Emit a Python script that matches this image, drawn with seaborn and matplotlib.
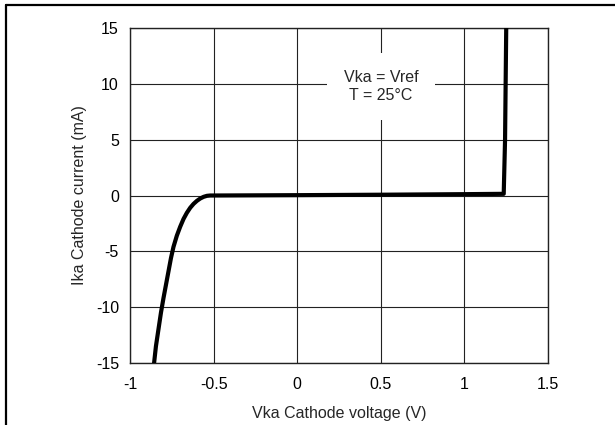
import matplotlib
matplotlib.use("Agg")
import matplotlib.pyplot as plt
import seaborn as sns
import pandas as pd

# curve (Vka = Vref, T = 25 C)
vka = [-0.856, -0.845, -0.83, -0.815, -0.80, -0.785, -0.77, -0.755, -0.74,
       -0.72, -0.70, -0.68, -0.66, -0.64, -0.62, -0.60, -0.58, -0.56, -0.54,
       -0.52, -0.5, 0.0, 0.5, 1.0, 1.235, 1.243, 1.25]
ika = [-15.0, -13.5, -12.0, -10.5, -9.2, -8.0, -6.8, -5.6, -4.6,
       -3.6, -2.8, -2.1, -1.55, -1.1, -0.75, -0.48, -0.27, -0.12, -0.03,
       0.0, 0.0, 0.03, 0.07, 0.12, 0.15, 5.0, 15.0]

x_ticks = [-1, -0.5, 0, 0.5, 1, 1.5]
x_labels = ["-1", "-0.5", "0", "0.5", "1", "1.5"]
y_ticks = [-15, -10, -5, 0, 5, 10, 15]

df = pd.DataFrame({"V": vka, "I": ika})

sns.set_style("white")
plt.rcParams["font.family"] = ["Liberation Sans", "DejaVu Sans"]
plt.rcParams["axes.unicode_minus"] = False

fig = plt.figure(figsize=(6.15, 4.25), dpi=100)
ax = fig.add_axes([0.2114, 0.1459, 0.6797, 0.7882])

sns.lineplot(data=df, x="V", y="I", sort=False, estimator=None,
             color="black", linewidth=3.0, ax=ax, zorder=3)

ax.set_xlim(-1, 1.5)
ax.set_ylim(-15, 15)
ax.set_xticks(x_ticks)
ax.set_xticklabels(x_labels)
ax.set_yticks(y_ticks)
ax.grid(True, color="#222222", linewidth=0.8)
ax.tick_params(length=0, labelsize=11.5, colors="black")
ax.tick_params(axis="x", pad=10)
ax.tick_params(axis="y", pad=8)
for s in ax.spines.values():
    s.set_color("#222222")
    s.set_linewidth(1.0)

ax.set_xlabel("Vka Cathode voltage (V)", fontsize=11.5, labelpad=10)
ax.set_ylabel("Ika Cathode current (mA)", fontsize=11.5, labelpad=6)

ax.text(0.5, 9.75, "Vka = Vref\nT = 25°C", ha="center", va="center",
        fontsize=11.5, linespacing=1.3, zorder=4,
        bbox=dict(boxstyle="square,pad=1.05", facecolor="white", edgecolor="none"))

# frame lines on the top and left of the figure
fig.add_artist(plt.Line2D([6 / 615, 1], [1 - 5 / 425, 1 - 5 / 425],
                          color="black", linewidth=1.6, transform=fig.transFigure))
fig.add_artist(plt.Line2D([6 / 615, 6 / 615], [0, 1 - 5 / 425],
                          color="black", linewidth=1.6, transform=fig.transFigure))

fig.savefig("out.png", dpi=100)
